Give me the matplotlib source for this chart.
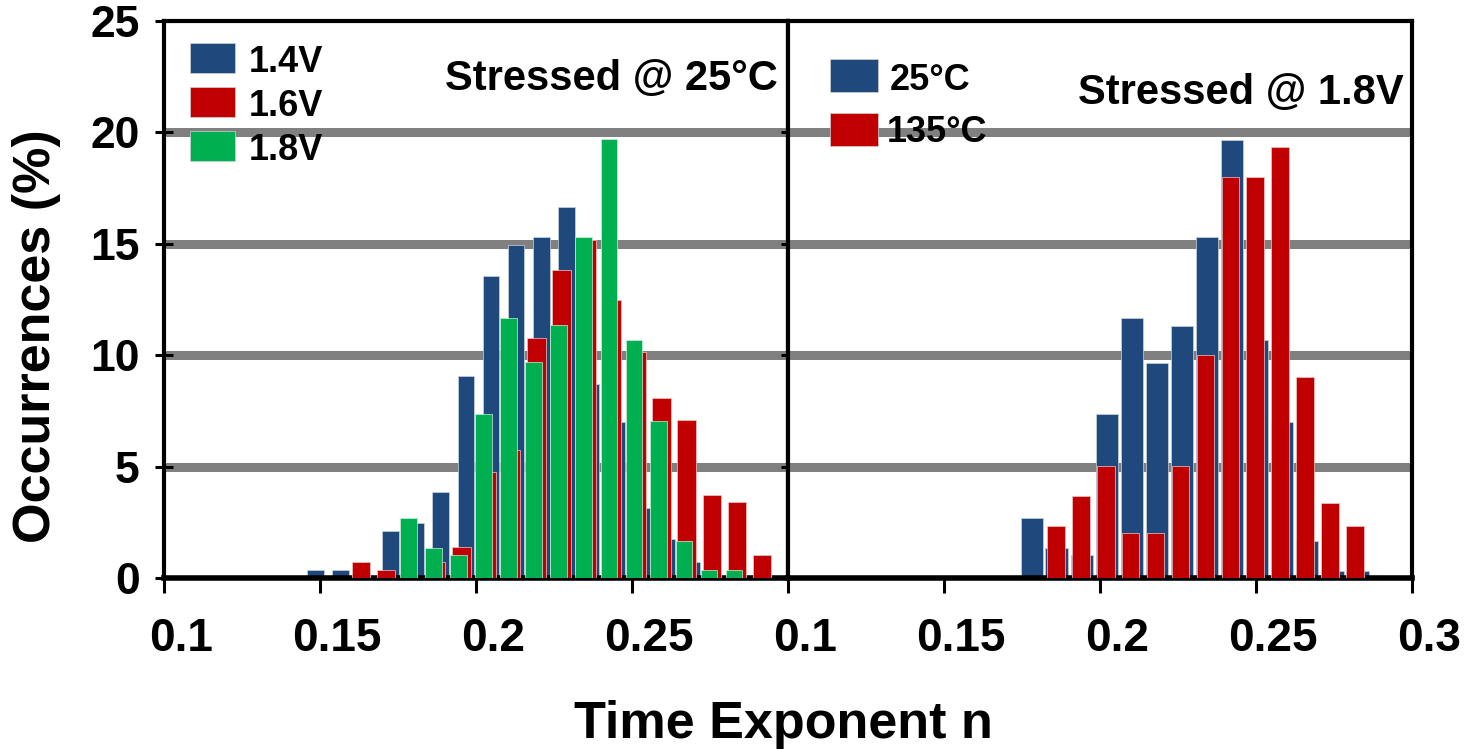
import matplotlib
matplotlib.use("Agg")
import matplotlib.pyplot as plt
import matplotlib.transforms as mtransforms
from matplotlib.patches import Rectangle

plt.rcParams['font.family'] = ['Liberation Sans', 'DejaVu Sans']
plt.rcParams['font.weight'] = 'bold'

# left panel: stressed @ 25C, three voltages
x_14v = [0.1486, 0.1566, 0.1727, 0.1807, 0.1887, 0.1968, 0.2048, 0.2128,
         0.2209, 0.2289, 0.2369, 0.2450, 0.2530, 0.2610, 0.2690]
occ_14v = [0.35, 0.35, 2.1, 2.45, 3.84, 9.06, 13.57, 14.95,
           15.29, 16.67, 8.70, 6.98, 3.14, 1.75, 0.70]

x_16v = [0.1631, 0.1712, 0.1872, 0.1953, 0.2033, 0.2113, 0.2194, 0.2274,
         0.2354, 0.2434, 0.2515, 0.2595, 0.2675, 0.2756, 0.2836, 0.2916]
occ_16v = [0.70, 0.36, 0.70, 1.40, 4.74, 5.74, 10.79, 13.83,
           15.17, 12.47, 10.15, 8.10, 7.10, 3.74, 3.39, 1.05]

x_18v = [0.1784, 0.1864, 0.1944, 0.2025, 0.2105, 0.2185, 0.2265,
         0.2345, 0.2426, 0.2506, 0.2586, 0.2667, 0.2747, 0.2827]
occ_18v = [2.69, 1.35, 1.03, 7.35, 11.67, 9.69, 11.35,
           15.32, 19.69, 10.69, 7.04, 1.67, 0.36, 0.36]

# right panel: stressed @ 1.8V, two temperatures
x_25c = [0.1781, 0.1861, 0.1942, 0.2022, 0.2102, 0.2182, 0.2263,
         0.2343, 0.2423, 0.2504, 0.2584, 0.2664, 0.2745, 0.2825]
occ_25c = [2.69, 1.35, 1.03, 7.35, 11.67, 9.66, 11.32,
           15.32, 19.66, 10.67, 7.01, 1.67, 0.33, 0.33]

x_135c = [0.1858, 0.1938, 0.2018, 0.2098, 0.2178, 0.2258, 0.2338,
          0.2418, 0.2498, 0.2578, 0.2658, 0.2738, 0.2818]
occ_135c = [2.33, 3.68, 5.01, 2.03, 2.03, 5.01, 10.0,
            18.0, 18.0, 19.33, 9.01, 3.35, 2.33]

grid_levels = [5, 10, 15, 20]
yticks = [0, 5, 10, 15, 20, 25]
xticks_left = [0.1, 0.15, 0.2, 0.25]
xticks_right = [0.1, 0.15, 0.2, 0.25, 0.3]

BLUE = '#1F497D'
RED = '#C00000'
GREEN = '#00B050'
GRAY = '#808080'

W, H = 1464, 749
fig = plt.figure(figsize=(W / 100, H / 100), dpi=100)


def fx(px):
    return px / W


def fy(py):
    return 1 - py / H


bottom, top = fy(578), fy(21)
ax1 = fig.add_axes([fx(164), bottom, fx(788) - fx(164), top - bottom])
ax2 = fig.add_axes([fx(788), bottom, fx(1412) - fx(788), top - bottom], sharey=ax1)

ax1.bar(x_14v, occ_14v, width=0.00535, color=BLUE, edgecolor='#c8d3e0', linewidth=0.5, zorder=2)
ax1.bar(x_16v, occ_16v, width=0.0059, color=RED, edgecolor='#f0c8c8', linewidth=0.5, zorder=3)
ax1.bar(x_18v, occ_18v, width=0.00535, color=GREEN, edgecolor='#c8f0d8', linewidth=0.5, zorder=4)

ax2.bar(x_25c, occ_25c, width=0.00715, color=BLUE, edgecolor='#c8d3e0', linewidth=0.5, zorder=2)
ax2.bar(x_135c, occ_135c, width=0.0057, color=RED, edgecolor='#f0c8c8', linewidth=0.5, zorder=3)

for ax, ticks in ((ax1, xticks_left), (ax2, xticks_right)):
    for g in grid_levels:
        ax.axhline(g, color=GRAY, linewidth=6.5, zorder=1)
    ax.set_xlim(0.1, 0.3)
    ax.set_ylim(0, 25)
    ax.set_xticks(ticks)
    ax.set_xticklabels([('%g' % t) for t in ticks])
    for side in ('left', 'right', 'top'):
        ax.spines[side].set_linewidth(3)
    ax.spines['bottom'].set_linewidth(4)
    ax.tick_params(axis='x', direction='out', length=11, width=2.2, pad=17, labelsize=33)

ax1.set_yticks(yticks)
ax1.tick_params(axis='y', direction='inout', length=13, width=2.2, pad=11, labelsize=32)
ax2.tick_params(axis='y', direction='out', length=5, width=2.2, labelleft=False)

# legends drawn as plain rectangles + text, placed in pixels
def legend_row(x0, y0, w, h, color, label, tx, base):
    fig.add_artist(Rectangle((fx(x0), fy(y0 + h)), fx(w), h / H,
                             transform=fig.transFigure, facecolor=color,
                             edgecolor='#d0d0d0', linewidth=0.5))
    fig.text(fx(tx), fy(base), label, fontsize=26, ha='left', va='baseline')


legend_row(190, 43, 45, 30, BLUE, '1.4V', 249, 72)
legend_row(190, 87, 45, 30, RED, '1.6V', 249, 116)
legend_row(190, 131, 45, 30, GREEN, '1.8V', 249, 160)

legend_row(830, 59, 48, 33, BLUE, '25°C', 890, 90)
legend_row(830, 113, 48, 33, RED, '135°C', 887, 142)

fig.text(fx(778), fy(90), 'Stressed @ 25°C', fontsize=30, ha='right', va='baseline')
fig.text(fx(1404), fy(104), 'Stressed @ 1.8V', fontsize=30, ha='right', va='baseline')

fig.text(fx(783), fy(738), 'Time Exponent n', fontsize=37.5, ha='center', va='baseline')
fig.text(fx(37), fy(336), 'Occurrences (%)', fontsize=37.5, rotation=90,
         ha='center', va='center')

# tick labels in the original sit a bit to the right of their ticks
shift = mtransforms.ScaledTranslation(17 / 100, 0, fig.dpi_scale_trans)
for ax in (ax1, ax2):
    for lab in ax.get_xticklabels():
        lab.set_transform(lab.get_transform() + shift)

fig.savefig('out.png', dpi=100)
